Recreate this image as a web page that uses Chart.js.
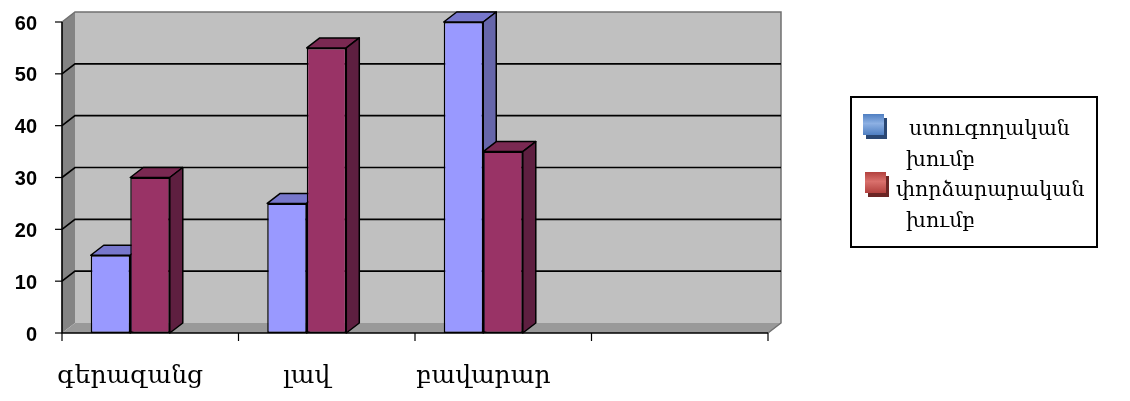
<!DOCTYPE html>
<html>
<head>
<meta charset="utf-8">
<script src="https://cdn.jsdelivr.net/npm/chart.js@4/dist/chart.umd.min.js"></script>
<style>
  html, body { margin: 0; padding: 0; background: #ffffff; }
  canvas { display: block; }
</style>
</head>
<body>
<canvas id="chart" width="1130" height="401"></canvas>
<script>
// Categories and values
const categories = ['գերազանց', 'լավ', 'բավարար', ''];
const controlGroup = [15, 25, 60, null];
const experimentalGroup = [30, 55, 35, null];
const seriesNames = ['ստուգողական խումբ', 'փորձարարական խումբ'];
const yTickValues = [0, 10, 20, 30, 40, 50, 60];

// Pseudo-3D geometry (pixels)
const DEPTH_X = 13;
const DEPTH_Y = 10;
const FRONT_SHIFT = 20;

const palette = [
  { front: '#9999ff', top: '#7777cc', side: '#6666aa' },
  { front: '#993366', top: '#7a2952', side: '#5e1f40' }
];

function polygon(ctx, pts, fill, stroke, lw) {
  ctx.beginPath();
  ctx.moveTo(pts[0][0], pts[0][1]);
  for (let i = 1; i < pts.length; i++) ctx.lineTo(pts[i][0], pts[i][1]);
  ctx.closePath();
  if (fill) { ctx.fillStyle = fill; ctx.fill(); }
  if (stroke) { ctx.strokeStyle = stroke; ctx.lineWidth = lw || 1; ctx.lineJoin = 'round'; ctx.stroke(); }
}

const box3d = {
  id: 'box3d',
  beforeDatasetsDraw(chart) {
    const ctx = chart.ctx;
    const area = chart.chartArea;
    const ys = chart.scales.y;
    const xl = area.left + FRONT_SHIFT;
    const xr = area.right + FRONT_SHIFT;
    const yTop = ys.getPixelForValue(ys.max);
    const yBot = ys.getPixelForValue(ys.min);

    ctx.save();
    // back wall
    ctx.fillStyle = '#c0c0c0';
    ctx.fillRect(xl + DEPTH_X, yTop - DEPTH_Y, xr - xl, yBot - yTop);
    // left side wall
    polygon(ctx, [[xl, yTop], [xl + DEPTH_X, yTop - DEPTH_Y], [xl + DEPTH_X, yBot - DEPTH_Y], [xl, yBot]], '#848484');
    // floor
    polygon(ctx, [[xl, yBot], [xl + DEPTH_X, yBot - DEPTH_Y], [xr + DEPTH_X, yBot - DEPTH_Y], [xr, yBot]], '#999999');

    // wall outline (top and right edges)
    ctx.strokeStyle = '#707070';
    ctx.lineWidth = 1.5;
    ctx.beginPath();
    ctx.moveTo(xl, yTop);
    ctx.lineTo(xl + DEPTH_X, yTop - DEPTH_Y);
    ctx.lineTo(xr + DEPTH_X, yTop - DEPTH_Y);
    ctx.lineTo(xr + DEPTH_X, yBot - DEPTH_Y);
    ctx.lineTo(xr, yBot);
    ctx.stroke();

    // horizontal gridlines across side wall and back wall
    ctx.strokeStyle = '#000000';
    ctx.lineWidth = 1.6;
    yTickValues.forEach(v => {
      if (v === ys.min || v === ys.max) return;
      const py = ys.getPixelForValue(v);
      ctx.beginPath();
      ctx.moveTo(xl, py);
      ctx.lineTo(xl + DEPTH_X, py - DEPTH_Y);
      ctx.lineTo(xr + DEPTH_X, py - DEPTH_Y);
      ctx.stroke();
    });

    // columns, category by category, series in order
    categories.forEach((cat, i) => {
      chart.data.datasets.forEach((ds, di) => {
        const meta = chart.getDatasetMeta(di);
        const bar = meta.data[i];
        if (!bar || ds.data[i] == null) return;
        const p = bar.getProps(['x', 'y', 'base', 'width'], true);
        const l = p.x - p.width / 2;
        const r = p.x + p.width / 2;
        const c = palette[di];
        bar.draw(ctx);
        polygon(ctx, [[l, p.y], [l + DEPTH_X, p.y - DEPTH_Y], [r + DEPTH_X, p.y - DEPTH_Y], [r, p.y]], c.top, '#000', 1.5);
        polygon(ctx, [[r, p.y], [r + DEPTH_X, p.y - DEPTH_Y], [r + DEPTH_X, p.base - DEPTH_Y], [r, p.base]], c.side, '#000', 1.5);
      });
    });

    // front axes
    ctx.strokeStyle = '#000000';
    ctx.lineWidth = 1.6;
    ctx.beginPath();
    ctx.moveTo(xl, yTop);
    ctx.lineTo(xl, yBot);
    ctx.lineTo(xr, yBot);
    ctx.stroke();
    ctx.lineWidth = 1.2;
    yTickValues.forEach(v => {
      const py = ys.getPixelForValue(v);
      ctx.beginPath();
      ctx.moveTo(xl - 7, py);
      ctx.lineTo(xl, py);
      ctx.stroke();
    });
    const step = (xr - xl) / categories.length;
    for (let k = 0; k <= categories.length; k++) {
      const px = xl + k * step;
      ctx.beginPath();
      ctx.moveTo(px, yBot);
      ctx.lineTo(px, yBot + 8);
      ctx.stroke();
    }
    ctx.restore();
    return false;
  },
  afterDraw(chart) {
    const ctx = chart.ctx;
    const area = chart.chartArea;
    const ys = chart.scales.y;
    const xs = chart.scales.x;
    const xl = area.left + FRONT_SHIFT;
    const yBot = ys.getPixelForValue(ys.min);
    ctx.save();

    // value axis labels
    ctx.fillStyle = '#000000';
    ctx.font = 'bold 20px "Liberation Sans", Arial, sans-serif';
    ctx.textAlign = 'right';
    ctx.textBaseline = 'middle';
    yTickValues.forEach(v => {
      ctx.fillText(String(v), xl - 25, ys.getPixelForValue(v) + 2);
    });

    // category labels
    ctx.font = '25px "DejaVu Serif", "DejaVu Sans", serif';
    ctx.textAlign = 'center';
    ctx.textBaseline = 'alphabetic';
    categories.forEach((cat, i) => {
      ctx.fillText(cat, xs.getPixelForValue(i), yBot + 50);
    });

    // legend
    const lx = 851, ly = 97, lw = 246, lh = 150;
    ctx.fillStyle = '#ffffff';
    ctx.fillRect(lx, ly, lw, lh);
    ctx.strokeStyle = '#000000';
    ctx.lineWidth = 2;
    ctx.strokeRect(lx, ly, lw, lh);

    const icons = [
      { x: 863, y: 114, shadow: '#2a4773', light: '#8db0e3', dark: '#4f7fc2' },
      { x: 865, y: 172, shadow: '#6b2524', light: '#d9706c', dark: '#b2413e' }
    ];
    const lines = [
      [{ dx: 58, y: 135 }, { dx: 55, y: 166 }],
      [{ dx: 45, y: 196 }, { dx: 55, y: 227 }]
    ];
    ctx.font = '20.5px "DejaVu Serif", "DejaVu Sans", serif';
    ctx.textAlign = 'left';
    chart.data.datasets.forEach((ds, di) => {
      const ic = icons[di];
      ctx.fillStyle = ic.shadow;
      ctx.fillRect(ic.x + 3, ic.y + 4, 21, 21);
      const g = ctx.createLinearGradient(0, ic.y, 0, ic.y + 21);
      g.addColorStop(0, ic.dark);
      g.addColorStop(0.45, ic.light);
      g.addColorStop(1, ic.dark);
      ctx.fillStyle = g;
      ctx.fillRect(ic.x, ic.y, 21, 21);
      const words = ds.label.split(' ');
      ctx.fillStyle = '#000000';
      words.forEach((w, k) => {
        const pos = lines[di][k];
        ctx.fillText(w, lx + pos.dx, pos.y);
      });
    });
    ctx.restore();
  }
};

new Chart(document.getElementById('chart'), {
  type: 'bar',
  data: {
    labels: categories,
    datasets: [
      {
        label: seriesNames[0],
        data: controlGroup,
        backgroundColor: palette[0].front,
        borderColor: '#000000',
        borderWidth: 1.5,
        borderSkipped: false
      },
      {
        label: seriesNames[1],
        data: experimentalGroup,
        backgroundColor: palette[1].front,
        borderColor: '#000000',
        borderWidth: 1.5,
        borderSkipped: false
      }
    ]
  },
  options: {
    responsive: false,
    animation: false,
    layout: { padding: { left: 42, right: 382, top: 22, bottom: 68 } },
    plugins: { legend: { display: false }, tooltip: { enabled: false } },
    datasets: { bar: { categoryPercentage: 0.448, barPercentage: 1 } },
    scales: {
      x: { display: false, offset: true },
      y: {
        display: false,
        min: 0,
        max: 60,
        afterBuildTicks(scale) { scale.ticks = yTickValues.map(v => ({ value: v })); }
      }
    }
  },
  plugins: [box3d]
});
</script>
</body>
</html>
